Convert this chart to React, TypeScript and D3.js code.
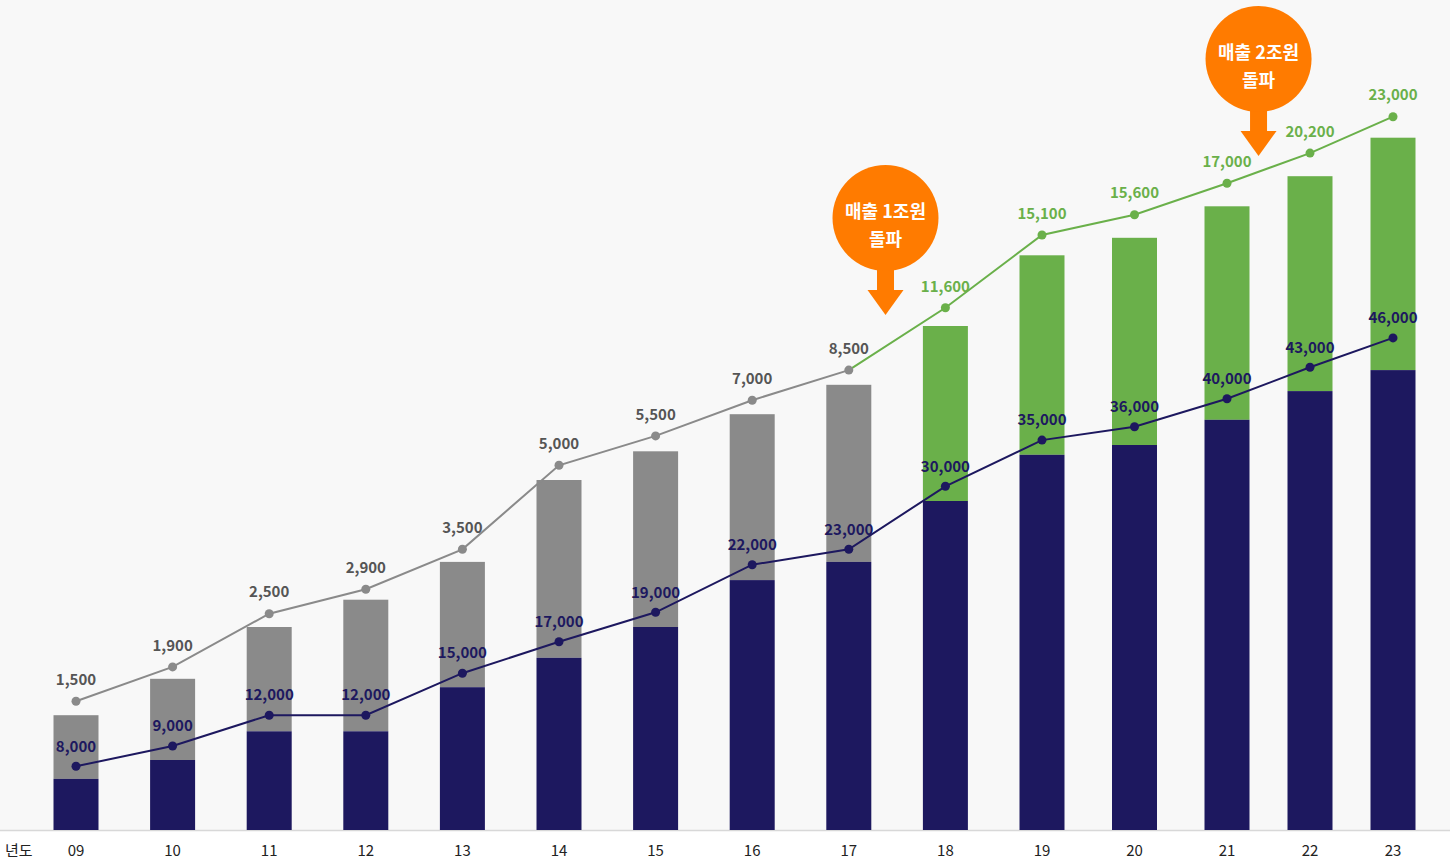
import React from "react";
import * as d3 from "d3";

// Years (category labels)
const years = ["09", "10", "11", "12", "13", "14", "15", "16", "17", "18", "19", "20", "21", "22", "23"];
// Revenue labels (억원) and employee labels
const revenue = [1500, 1900, 2500, 2900, 3500, 5000, 5500, 7000, 8500, 11600, 15100, 15600, 17000, 20200, 23000];
const employees = [8000, 9000, 12000, 12000, 15000, 17000, 19000, 22000, 23000, 30000, 35000, 36000, 40000, 43000, 46000];
// Visual heights (index 0-100): the chart is not drawn to scale
const barTotalIdx = [16.4, 21.6, 29.0, 32.9, 38.3, 50.0, 54.1, 59.4, 63.6, 72.0, 82.1, 84.6, 89.1, 93.4, 98.9];
const barLowerIdx = [7.3, 10.0, 14.1, 14.1, 20.4, 24.6, 29.0, 35.7, 38.3, 47.0, 53.6, 55.0, 58.6, 62.7, 65.7];
const revenueIdx = [18.4, 23.3, 30.9, 34.4, 40.1, 52.1, 56.3, 61.4, 65.7, 74.6, 85.0, 87.9, 92.4, 96.7, 101.9];
const employeeIdx = [9.1, 12.0, 16.4, 16.4, 22.4, 26.9, 31.1, 37.9, 40.1, 49.1, 55.7, 57.6, 61.6, 66.1, 70.3];
// index of first "green" year (revenue over 1조)
const greenFrom = 9;
const callouts = [
  { after: 8, line1: "매출 1조원", line2: "돌파", cy: 218, tip: 315 },
  { after: 12, line1: "매출 2조원", line2: "돌파", cy: 59, tip: 156 },
];

const W = 1450;
const H = 867;
const NAVY = "#1d185f";
const GRAY = "#8a8a8a";
const GREEN = "#6ab04a";
const ORANGE = "#ff7b00";
const FONT = "'Noto Sans CJK KR', 'Noto Sans', sans-serif";

export default function App() {
  const x = d3.scaleLinear().domain([0, 10, 12, 14]).range([76, 1042, 1227, 1393]);
  const y = d3.scaleLinear().domain([0, 100]).range([830, 130]);
  const barW = 45;
  const idx = years.map((_, i) => i);

  const line = d3
    .line<number>()
    .x((i) => x(i))
    .y((i) => y(revenueIdx[i]));
  const empLine = d3
    .line<number>()
    .x((i) => x(i))
    .y((i) => y(employeeIdx[i]));

  const grayPart = idx.slice(0, greenFrom);
  const greenPart = idx.slice(greenFrom - 1);
  const fmt = d3.format(",");

  return (
    <svg width={W} height={H} style={{ display: "block", position: "absolute", left: 0, top: 0 }} fontFamily={FONT}>
      <style>{`body{margin:0}`}</style>
      <rect x={0} y={0} width={W} height={H} fill="#ffffff" />
      <rect x={0} y={0} width={W} height={y(0)} fill="#f8f8f8" />
      <line x1={0} x2={W} y1={y(0) + 0.5} y2={y(0) + 0.5} stroke="#d8d8d8" strokeWidth={1.5} />

      {/* bars */}
      {idx.map((i) => (
        <g key={"b" + i}>
          <rect
            x={x(i) - barW / 2}
            y={y(barTotalIdx[i])}
            width={barW}
            height={y(barLowerIdx[i]) - y(barTotalIdx[i])}
            fill={i >= greenFrom ? GREEN : GRAY}
          />
          <rect
            x={x(i) - barW / 2}
            y={y(barLowerIdx[i])}
            width={barW}
            height={y(0) - y(barLowerIdx[i])}
            fill={NAVY}
          />
        </g>
      ))}

      {/* revenue line */}
      <path d={line(grayPart) || ""} fill="none" stroke={GRAY} strokeWidth={2} />
      <path d={line(greenPart) || ""} fill="none" stroke={GREEN} strokeWidth={2} />
      {idx.map((i) => (
        <g key={"r" + i}>
          <circle cx={x(i)} cy={y(revenueIdx[i])} r={4.5} fill={i >= greenFrom ? GREEN : GRAY} />
          <text
            x={x(i)}
            y={y(revenueIdx[i]) - 21.5}
            dy="0.35em"
            textAnchor="middle"
            fontSize={15}
            fontWeight={700}
            fill={i >= greenFrom ? GREEN : "#555555"}
          >
            {fmt(revenue[i])}
          </text>
        </g>
      ))}

      {/* employees line */}
      <path d={empLine(idx) || ""} fill="none" stroke={NAVY} strokeWidth={2} />
      {idx.map((i) => (
        <g key={"e" + i}>
          <circle cx={x(i)} cy={y(employeeIdx[i])} r={4.5} fill={NAVY} />
          <text
            x={x(i)}
            y={y(employeeIdx[i]) - 20}
            dy="0.35em"
            textAnchor="middle"
            fontSize={15}
            fontWeight={700}
            fill={NAVY}
          >
            {fmt(employees[i])}
          </text>
        </g>
      ))}

      {/* x axis labels */}
      <text x={5} y={851} dy="0.35em" fontSize={15} fill="#222">
        년도
      </text>
      {idx.map((i) => (
        <text key={"t" + i} x={x(i)} y={851} dy="0.35em" textAnchor="middle" fontSize={15} fill="#222">
          {years[i]}
        </text>
      ))}

      {/* callouts */}
      {callouts.map((c, k) => {
        const cx = x(c.after + 0.38);
        const r = 53;
        const stemTop = c.cy + r - 4;
        const headBase = c.tip - 25;
        return (
          <g key={"c" + k}>
            <rect x={cx - 8.5} y={stemTop} width={17} height={headBase - stemTop + 1} fill={ORANGE} />
            <path d={`M${cx - 18},${headBase} L${cx + 18},${headBase} L${cx},${c.tip} Z`} fill={ORANGE} />
            <circle cx={cx} cy={c.cy} r={r} fill={ORANGE} />
            <text x={cx} y={c.cy - 6} dy="0.35em" textAnchor="middle" fontSize={18} fontWeight={700} fill="#fff">
              {c.line1}
            </text>
            <text x={cx} y={c.cy + 22} dy="0.35em" textAnchor="middle" fontSize={18} fontWeight={700} fill="#fff">
              {c.line2}
            </text>
          </g>
        );
      })}
    </svg>
  );
}
